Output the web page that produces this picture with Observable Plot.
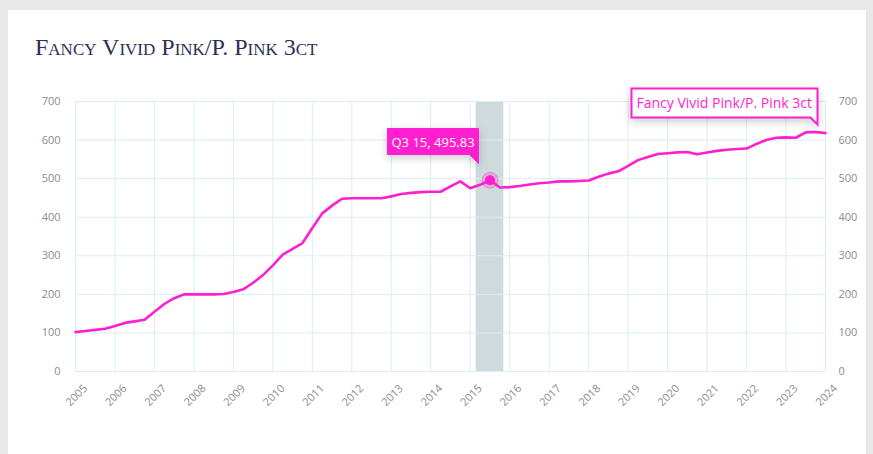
<!DOCTYPE html>
<html>
<head>
<meta charset="utf-8">
<script src="https://cdn.jsdelivr.net/npm/d3@7"></script>
<script src="https://cdn.jsdelivr.net/npm/@observablehq/plot@0.6"></script>
<style>
  html, body { margin: 0; padding: 0; background: #e8e8e8; width: 873px; height: 454px; overflow: hidden; }
  #card { position: absolute; left: 8px; top: 10px; width: 858px; height: 444px; background: #fff; }
  #title { position: absolute; left: 35px; top: 33px; font-family: "Liberation Serif", "DejaVu Serif", serif; font-variant: small-caps; font-size: 24px; line-height: 28px; color: #2b3052; white-space: nowrap; }
  #chart { position: absolute; left: 0; top: 80px; }
  #chart svg { overflow: visible; }
</style>
</head>
<body>
<div id="card"></div>
<div id="title">Fancy Vivid Pink/P. Pink 3ct</div>
<div id="chart"></div>
<script>
// Quarterly index values, 2005 Q1 .. 2024 Q1
const years = d3.range(2005, 2025);
const q2005 = [102, 105, 108, 111];
const q2006 = [118, 126, 130, 134];
const q2007 = [155, 175, 190, 200];
const q2008 = [200, 200, 200, 201];
const q2009 = [206, 213, 230, 250];
const q2010 = [275, 303, 318, 333];
const q2011 = [372, 410, 430, 448];
const q2012 = [449, 449, 449, 449];
const q2013 = [454, 460, 463, 465];
const q2014 = [466, 466, 480, 493];
const q2015 = [475, 484, 495.83, 477];
const q2016 = [478, 481, 485, 488];
const q2017 = [490, 493, 493, 494];
const q2018 = [495, 505, 513, 519];
const q2019 = [533, 548, 556, 564];
const q2020 = [566, 568, 569, 563];
const q2021 = [568, 572, 575, 577];
const q2022 = [578, 590, 600, 606];
const q2023 = [607, 606, 620, 621];
const q2024 = [618];
const seriesName = "Fancy Vivid Pink/P. Pink 3ct";
const yTicks = [0, 100, 200, 300, 400, 500, 600, 700];
const highlight = { year: 2015, quarter: 3 };

const quarterly = [q2005, q2006, q2007, q2008, q2009, q2010, q2011, q2012, q2013, q2014,
  q2015, q2016, q2017, q2018, q2019, q2020, q2021, q2022, q2023, q2024];
const data = [];
quarterly.forEach((vals, i) => vals.forEach((v, q) => data.push({
  year: years[i], quarter: q + 1, t: years[i] + q / 4, value: v
})));
const hl = data.find(d => d.year === highlight.year && d.quarter === highlight.quarter);
const last = data[data.length - 1];
const pink = "#ff1fd0";

const plot = Plot.plot({
  width: 873,
  height: 374,
  marginLeft: 75,
  marginRight: 48,
  marginTop: 21,
  marginBottom: 83,
  style: { fontFamily: "'Open Sans', sans-serif", fontSize: "11px", color: "#8c8c8c", background: "transparent" },
  x: { domain: [2005, 2024], label: null },
  y: { domain: [0, 700], label: null },
  marks: [
    Plot.rect([hl], { x1: d => d.t - 0.35, x2: d => d.t + 0.35, y1: 0, y2: 700, fill: "#cfdadd" }),
    Plot.gridX(years, { stroke: "#dbedf4", strokeOpacity: 1 }),
    Plot.gridY(yTicks, { stroke: "#dbedf4", strokeOpacity: 1 }),
    Plot.axisY({ anchor: "left", ticks: yTicks, tickSize: 0, tickPadding: 15, fill: "#8c8c8c", fontSize: 11, label: null }),
    Plot.axisY({ anchor: "right", ticks: yTicks, tickSize: 0, tickPadding: 13, fill: "#8c8c8c", fontSize: 11, label: null }),
    Plot.axisX({ ticks: years, tickFormat: d => String(d), tickRotate: -45, tickSize: 0, tickPadding: 8, dx: 10, dy: 7, fill: "#8c8c8c", fontSize: 11, label: null }),
    Plot.line(data, { x: "t", y: "value", stroke: pink, strokeWidth: 2.6, curve: "linear" }),
    Plot.dot([hl], { x: "t", y: "value", r: 8, fill: pink, fillOpacity: 0.25, stroke: pink, strokeOpacity: 0.35, strokeWidth: 1 }),
    Plot.dot([hl], { x: "t", y: "value", r: 5, fill: pink }),
    Plot.tip([hl], { x: "t", y: "value", anchor: "bottom-right", dx: -11, dy: -17,
      title: d => `Q${d.quarter} ${String(d.year).slice(2)}, ${d.value.toFixed(2)}`,
      fill: pink, stroke: pink, fontSize: 13, textPadding: 4, pointerSize: 9,
      fontFamily: "'Open Sans', sans-serif" }),
    Plot.tip([last], { x: "t", y: "value", anchor: "bottom-right", dx: -8, dy: -9,
      title: () => seriesName,
      fill: "#ffffff", stroke: pink, strokeWidth: 2, fontSize: 14, textPadding: 5, pointerSize: 7,
      fontFamily: "'Open Sans', sans-serif" })
  ]
});
document.getElementById("chart").appendChild(plot);
// text colours of the two callouts
plot.querySelectorAll('[aria-label="tip"]').forEach((g, i) => {
  g.querySelectorAll("text, tspan").forEach(t => t.style.fill = i === 0 ? "#ffffff" : pink);
});
</script>
</body>
</html>
